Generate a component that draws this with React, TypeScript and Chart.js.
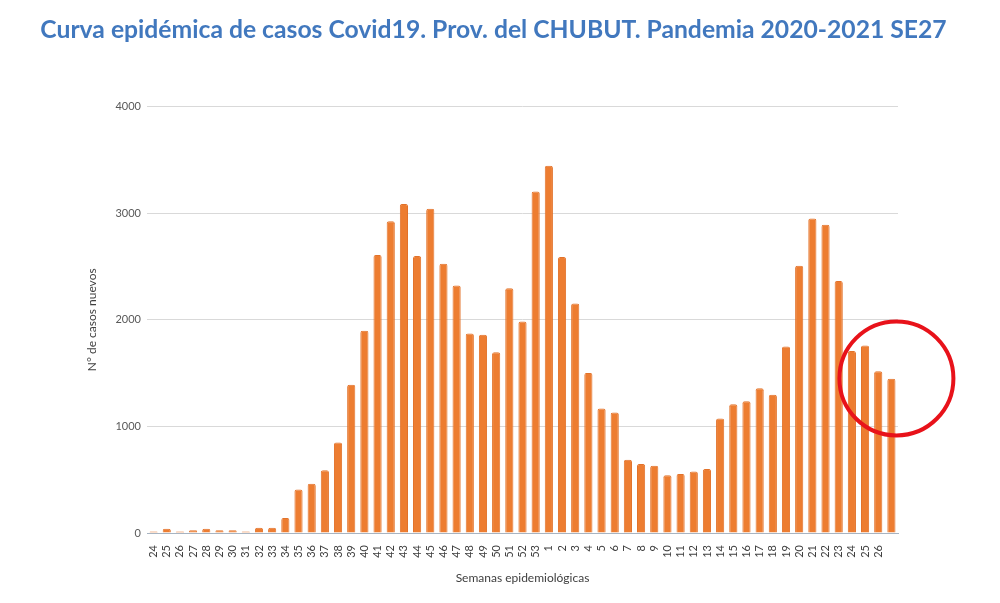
import { useEffect, useRef } from "react";
import { Chart, registerables } from "chart.js";

Chart.register(...registerables);

// semanas epidemiológicas 24/2020 .. 27/2021 (la última sin rótulo en el original)
const semanas = [
  "24", "25", "26", "27", "28", "29", "30", "31", "32", "33", "34", "35", "36", "37", "38",
  "39", "40", "41", "42", "43", "44", "45", "46", "47", "48", "49", "50", "51", "52", "53",
  "1", "2", "3", "4", "5", "6", "7", "8", "9", "10", "11", "12", "13", "14", "15", "16",
  "17", "18", "19", "20", "21", "22", "23", "24", "25", "26", "",
];

const casosNuevos = [
  15, 40, 15, 25, 40, 25, 25, 15, 50, 50, 141, 408, 462, 588, 848,
  1390, 1897, 2607, 2925, 3087, 2598, 3043, 2526, 2321, 1872, 1860, 1695, 2296, 1984, 3203,
  3445, 2589, 2153, 1502, 1168, 1131, 688, 648, 632, 542, 554, 576, 601, 1075, 1208, 1236,
  1358, 1296, 1750, 2508, 2950, 2891, 2364, 1707, 1760, 1517, 1446,
];

const yTicks = [0, 1000, 2000, 3000, 4000];

const FONT = "Lato, 'Open Sans', sans-serif";

// círculo rojo alrededor de las últimas semanas
const circlePlugin = {
  id: "redCircle",
  afterDatasetsDraw(chart: any) {
    const { ctx, scales } = chart;
    const cx = scales.x.getPixelForValue(casosNuevos.length - 1) + 5;
    const cy = scales.y.getPixelForValue(1450);
    ctx.save();
    ctx.beginPath();
    ctx.ellipse(cx, cy, 57, 57, 0, 0, Math.PI * 2);
    ctx.lineWidth = 4;
    ctx.strokeStyle = "#e8121a";
    ctx.stroke();
    ctx.restore();
  },
};

const App = () => {
  const canvasRef = useRef<HTMLCanvasElement>(null);

  useEffect(() => {
    document.body.style.margin = "0";
    if (!canvasRef.current) return;
    const ctx = canvasRef.current.getContext("2d");
    if (!ctx) return;

    const chart = new Chart(ctx, {
      type: "bar",
      data: {
        labels: semanas,
        datasets: [
          {
            label: "Casos nuevos",
            data: casosNuevos,
            backgroundColor: "#ed7d31",
            borderColor: "#e2722a",
            borderWidth: 1,
            borderRadius: 2,
            borderSkipped: "bottom",
            barPercentage: 0.62,
            categoryPercentage: 1,
          },
        ],
      },
      options: {
        animation: false,
        responsive: false,
        maintainAspectRatio: false,
        layout: { padding: { left: 0, right: 13, top: 0, bottom: 18 } },
        plugins: {
          legend: { display: false },
          tooltip: { enabled: false },
          title: {
            display: true,
            text: "Curva epidémica de casos Covid19. Prov. del CHUBUT. Pandemia 2020-2021 SE27",
            color: "#4178be",
            font: { family: FONT, size: 24.7, weight: "bold" },
            padding: { top: 15, bottom: 62 },
          },
        },
        scales: {
          x: {
            grid: { display: false },
            border: { display: true, color: "#a7b4c2", width: 1 },
            ticks: {
              autoSkip: false,
              maxRotation: 90,
              minRotation: 90,
              padding: 4,
              color: "#404040",
              font: { family: FONT, size: 11 },
            },
            title: {
              display: true,
              text: "Semanas epidemiológicas",
              color: "#404040",
              font: { family: FONT, size: 12 },
              padding: { top: 0, bottom: 0 },
            },
            afterFit(scale: any) {
              scale.height = 52;
            },
          },
          y: {
            min: 0,
            max: 4000,
            afterBuildTicks(scale: any) {
              scale.ticks = yTicks.map((v) => ({ value: v }));
            },
            grid: { color: "#d9d9d9", drawTicks: false },
            border: { display: false },
            ticks: {
              padding: 6,
              color: "#595959",
              font: { family: FONT, size: 11 },
              callback: (v: any) => String(v),
            },
            title: {
              display: true,
              text: "N° de casos nuevos",
              color: "#404040",
              font: { family: FONT, size: 12 },
              padding: { top: 85, bottom: 0 },
            },
            afterFit(scale: any) {
              scale.width = 147;
            },
          },
          // eje vacío a la derecha, sólo para reservar el margen
          margenDerecho: {
            type: "linear",
            position: "right",
            min: 0,
            max: 4000,
            grid: { display: false, drawTicks: false },
            border: { display: false },
            ticks: { display: false },
            afterFit(scale: any) {
              scale.width = 89;
            },
          },
        },
      },
      plugins: [circlePlugin],
    });

    return () => chart.destroy();
  }, []);

  return (
    <div style={{ width: 1000, height: 603 }}>
      <canvas ref={canvasRef} width={1000} height={603} style={{ width: 1000, height: 603 }}></canvas>
    </div>
  );
};

export default App;
